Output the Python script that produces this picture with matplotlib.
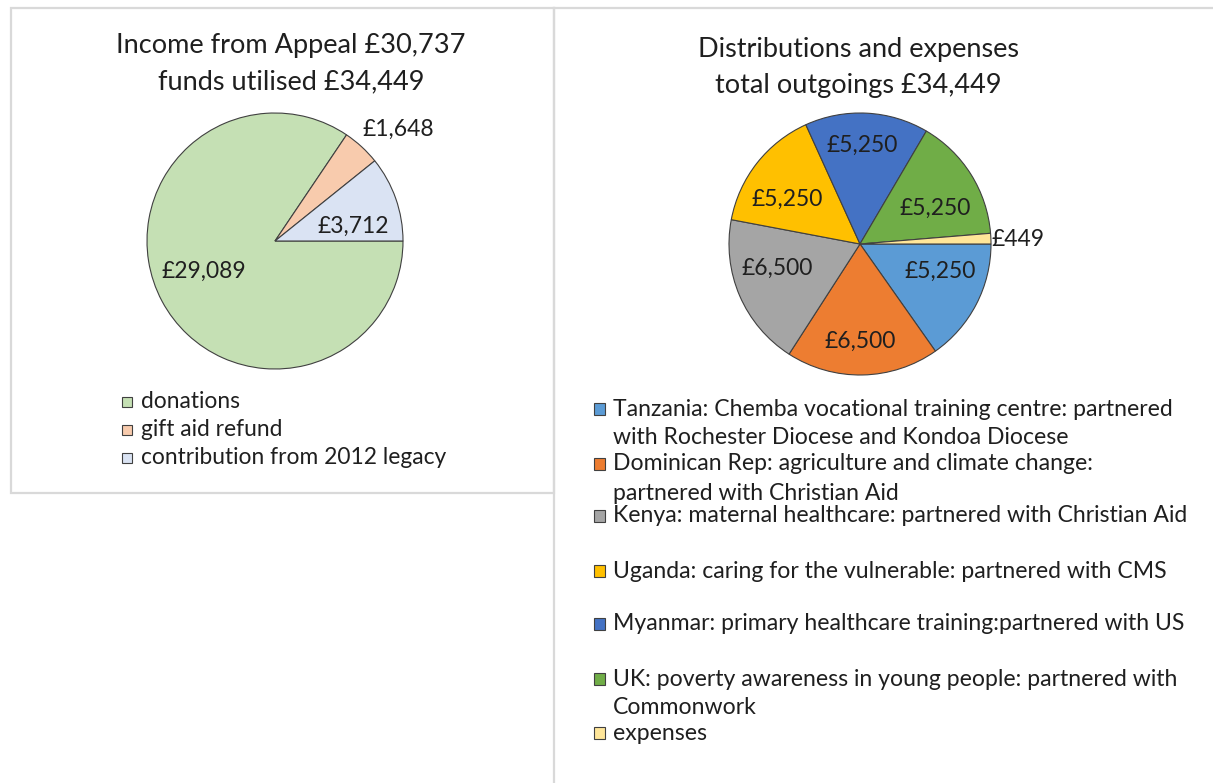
import matplotlib
matplotlib.use("Agg")
import matplotlib.pyplot as plt
from matplotlib.patches import Rectangle
from matplotlib.lines import Line2D

plt.rcParams['font.family'] = ['Lato', 'DejaVu Sans']

# ---- data ----
income_labels = ["donations", "gift aid refund", "contribution from 2012 legacy"]
income_values = [29089, 1648, 3712]
income_colors = ["#c5e0b4", "#f8cbad", "#dae3f3"]
income_title = ["Income from Appeal £30,737", "funds utilised £34,449"]

out_labels = [
    "Tanzania: Chemba vocational training centre: partnered\nwith Rochester Diocese and Kondoa Diocese",
    "Dominican Rep: agriculture and climate change:\npartnered with Christian Aid",
    "Kenya: maternal healthcare: partnered with Christian Aid",
    "Uganda: caring for the vulnerable: partnered with CMS",
    "Myanmar: primary healthcare training:partnered with US",
    "UK: poverty awareness in young people: partnered with\nCommonwork",
    "expenses",
]
out_values = [5250, 6500, 6500, 5250, 5250, 5250, 449]
out_colors = ["#5b9bd5", "#ed7d31", "#a5a5a5", "#ffc000", "#4472c4", "#70ad47", "#ffe699"]
out_title = ["Distributions and expenses", "total outgoings £34,449"]

W, H = 1213, 783
fig = plt.figure(figsize=(W / 100, H / 100), dpi=100)
TXT = "#1f1f1f"

def fx(x):
    return x / W

def fy(y):
    return 1 - y / H

border = "#d9d9d9"
# panel borders
fig.add_artist(Rectangle((fx(10.5), fy(492.5)), fx(553.5) - fx(10.5), fy(8) - fy(492.5),
                         transform=fig.transFigure, fill=False, ec=border, lw=1.6))
fig.add_artist(Line2D([fx(553.5), fx(1213)], [fy(8), fy(8)], transform=fig.transFigure, color=border, lw=1.6))
fig.add_artist(Line2D([fx(553.5), fx(553.5)], [fy(8), fy(783)], transform=fig.transFigure, color=border, lw=1.6))

def fmt(v):
    return "£{:,}".format(v)

# ---- left pie ----
cx, cy, r = 275, 241, 128
axL = fig.add_axes([fx(cx - r), fy(cy + r), (2 * r) / W, (2 * r) / H])
axL.pie(income_values, colors=income_colors, startangle=0, counterclock=False,
        wedgeprops=dict(edgecolor="#404040", linewidth=0.8))
axL.set_xlim(-1, 1); axL.set_ylim(-1, 1); axL.set_aspect("auto"); axL.axis("off")

left_label_pos = [(204, 271), (398, 129), (353, 226)]
for v, (x, y) in zip(income_values, left_label_pos):
    fig.text(fx(x), fy(y), fmt(v), ha="center", va="center", fontsize=16.5, color=TXT)

for i, line in enumerate(income_title):
    fig.text(fx(291), fy(46 + 36 * i), line, ha="center", va="center", fontsize=19.5, color=TXT)

# left legend
for i, lab in enumerate(income_labels):
    y = 402 + i * 28
    fig.add_artist(Rectangle((fx(122), fy(y + 5)), 10 / W, 10 / H, transform=fig.transFigure,
                             fc=income_colors[i], ec="#404040", lw=0.8))
    fig.text(fx(141), fy(y), lab, ha="left", va="center", fontsize=16.4, color=TXT)

# ---- right pie ----
cx2, cy2, r2 = 860, 244, 131
axR = fig.add_axes([fx(cx2 - r2), fy(cy2 + r2), (2 * r2) / W, (2 * r2) / H])
axR.pie(out_values, colors=out_colors, startangle=0, counterclock=False,
        wedgeprops=dict(edgecolor="#404040", linewidth=0.8))
axR.set_xlim(-1, 1); axR.set_ylim(-1, 1); axR.set_aspect("auto"); axR.axis("off")

right_label_pos = [(940, 271), (860, 341), (777, 268), (787, 199), (862, 145), (935, 208), (1018, 239)]
for v, (x, y) in zip(out_values, right_label_pos):
    fig.text(fx(x), fy(y), fmt(v), ha="center", va="center", fontsize=16.5, color=TXT)

for i, line in enumerate(out_title):
    fig.text(fx(858), fy(49 + 36 * i), line, ha="center", va="center", fontsize=19.5, color=TXT)

# right legend
leg_rows = [409, 464, 516, 571, 624, 679, 733]
for i, lab in enumerate(out_labels):
    y = leg_rows[i]
    fig.add_artist(Rectangle((fx(594), fy(y + 6)), 11 / W, 12 / H, transform=fig.transFigure,
                             fc=out_colors[i], ec="#404040", lw=0.8))
    for j, line in enumerate(lab.split("\n")):
        fig.text(fx(613), fy(y + 29 * j), line, ha="left", va="center", fontsize=16.6, color=TXT)

fig.savefig("out.png", dpi=100)
